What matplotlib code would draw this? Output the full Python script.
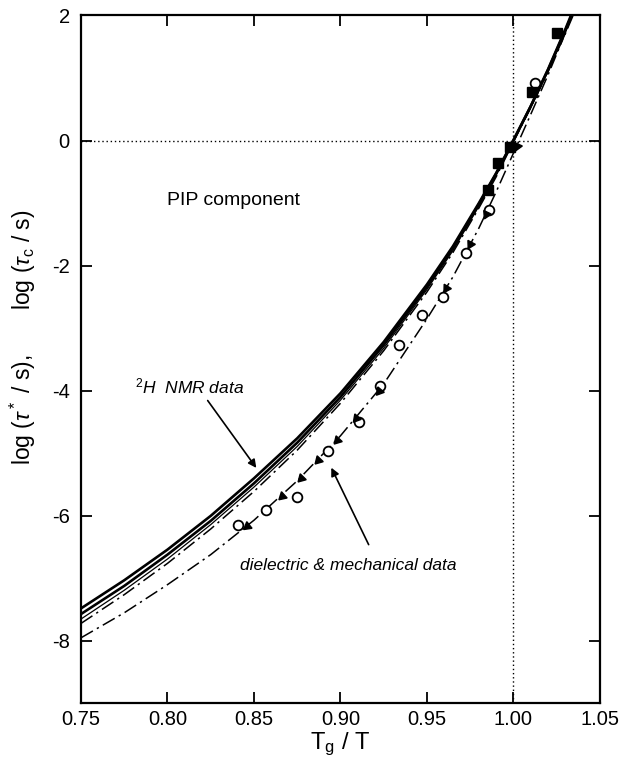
import matplotlib
matplotlib.use("Agg")
import matplotlib.pyplot as plt
import numpy as np

plt.rcParams['font.family'] = ['Liberation Sans', 'DejaVu Sans']
plt.rcParams['mathtext.fontset'] = 'custom'
plt.rcParams['mathtext.rm'] = 'Liberation Sans'
plt.rcParams['mathtext.it'] = 'Liberation Sans:italic'
plt.rcParams['axes.unicode_minus'] = False

# T_g / T grid for the fitted curves
x_fit = [0.75, 0.775, 0.80, 0.825, 0.85, 0.875, 0.90, 0.925, 0.95,
         0.965, 0.98, 0.99, 1.00, 1.01, 1.02, 1.03, 1.04]
# 2H NMR fits (two solid, one thin solid, one dash-dot)
nmr_a = [-7.48, -7.03, -6.54, -6.00, -5.40, -4.76, -4.04, -3.22, -2.30,
         -1.69, -1.00, -0.52, 0.01, 0.55, 1.14, 1.78, 2.46]
nmr_b = [-7.57, -7.12, -6.62, -6.08, -5.48, -4.83, -4.10, -3.27, -2.34,
         -1.72, -1.02, -0.53, 0.00, 0.55, 1.13, 1.76, 2.43]
nmr_c = [-7.65, -7.19, -6.69, -6.14, -5.54, -4.89, -4.15, -3.32, -2.38,
         -1.76, -1.05, -0.55, -0.01, 0.54, 1.11, 1.73, 2.39]
nmr_d = [-7.72, -7.26, -6.76, -6.21, -5.61, -4.95, -4.20, -3.36, -2.42,
         -1.79, -1.08, -0.58, -0.02, 0.53, 1.10, 1.71, 2.36]
# dielectric & mechanical fit
diel = [-7.95, -7.55, -7.10, -6.62, -6.07, -5.44, -4.72, -3.89, -2.85,
        -2.18, -1.40, -0.82, -0.20, 0.42, 1.05, 1.72, 2.45]

# dielectric / mechanical data (open circles)
circ_x = [0.841, 0.857, 0.875, 0.893, 0.911, 0.923, 0.934, 0.947, 0.959,
          0.9725, 0.986, 1.0124]
circ_y = [-6.14, -5.90, -5.70, -4.97, -4.50, -3.93, -3.27, -2.79, -2.50,
          -1.80, -1.11, 0.92]
# NMR data (filled squares)
sq_x = [0.985, 0.991, 0.998, 1.0105, 1.025]
sq_y = [-0.79, -0.36, -0.10, 0.78, 1.72]
# arrow heads on the dielectric curve
arr_x = [0.846, 0.866, 0.877, 0.887, 0.898, 0.909, 0.922, 0.961, 0.975,
         0.984, 1.002]
arr_y = [-6.17, -5.68, -5.40, -5.10, -4.79, -4.43, -4.00, -2.36, -1.66,
         -1.17, -0.08]

fig = plt.figure(figsize=(6.21, 7.67), dpi=100)
ax = fig.add_axes([0.1304, 0.0828, 0.8357, 0.897])

dashdot = (0, (9, 3, 1.5, 3))
ax.plot(x_fit, nmr_a, color='black', lw=1.9)
ax.plot(x_fit, nmr_b, color='black', lw=1.9)
ax.plot(x_fit, nmr_c, color='black', lw=0.9)
ax.plot(x_fit, nmr_d, color='black', lw=1.1, ls=dashdot)
ax.plot(x_fit, diel, color='black', lw=1.1, ls=dashdot)

ax.plot(circ_x, circ_y, 'o', mfc='white', mec='black', ms=7, mew=1.3)
ax.plot(sq_x, sq_y, 's', color='black', ms=7)

ax.axhline(0, color='black', lw=1, ls=(0, (1, 2)))
ax.axvline(1.0, color='black', lw=1, ls=(0, (1, 2)))

ax.set_xlim(0.75, 1.05)
ax.set_ylim(-9, 2)

# orient the arrow heads along the curve (pointing down-left)
fig.canvas.draw()
for xa, ya in zip(arr_x, arr_y):
    p0 = ax.transData.transform((xa, ya))
    sl = np.interp(xa + 0.003, x_fit, diel) - np.interp(xa - 0.003, x_fit, diel)
    p1 = ax.transData.transform((xa + 0.006, ya + sl))
    ang = np.degrees(np.arctan2(p1[1] - p0[1], p1[0] - p0[0]))
    ax.plot([xa], [ya], marker=(3, 0, ang + 90), color='black', ms=7, ls='none')

ax.set_xticks([0.75, 0.80, 0.85, 0.90, 0.95, 1.00, 1.05])
ax.set_xticklabels(['0.75', '0.80', '0.85', '0.90', '0.95', '1.00', '1.05'])
ax.set_yticks([2, 0, -2, -4, -6, -8])
ax.tick_params(direction='in', length=8, width=1.3, labelsize=14.5,
               top=True, right=True)
ax.tick_params(axis='x', pad=5)
ax.tick_params(axis='y', pad=8)
for s in ax.spines.values():
    s.set_linewidth(1.6)

ax.set_xlabel(r'T$_{\mathrm{g}}$ / T', fontsize=17, labelpad=1)
ax.set_ylabel(r'log ($\tau^*$ / s),       log ($\tau_{\mathrm{c}}$ / s)',
              fontsize=16.5)
ax.yaxis.set_label_coords(-0.082, 0.533)

ax.text(0.800, -0.95, 'PIP component', fontsize=14, va='center')
ax.text(0.781, -3.93, r'$^{2}$H  NMR data', fontsize=12.5, style='italic',
        va='center')
ax.annotate('', xy=(0.8523, -5.27), xytext=(0.8223, -4.12),
            arrowprops=dict(arrowstyle='-|>', color='black', lw=1.2,
                            mutation_scale=12))
ax.text(0.842, -6.79, 'dielectric & mechanical data', fontsize=12.5,
        style='italic', ha='left', va='center')
ax.annotate('', xy=(0.894, -5.19), xytext=(0.917, -6.50),
            arrowprops=dict(arrowstyle='-|>', color='black', lw=1.2,
                            mutation_scale=12))

fig.savefig('out.png', dpi=100)
